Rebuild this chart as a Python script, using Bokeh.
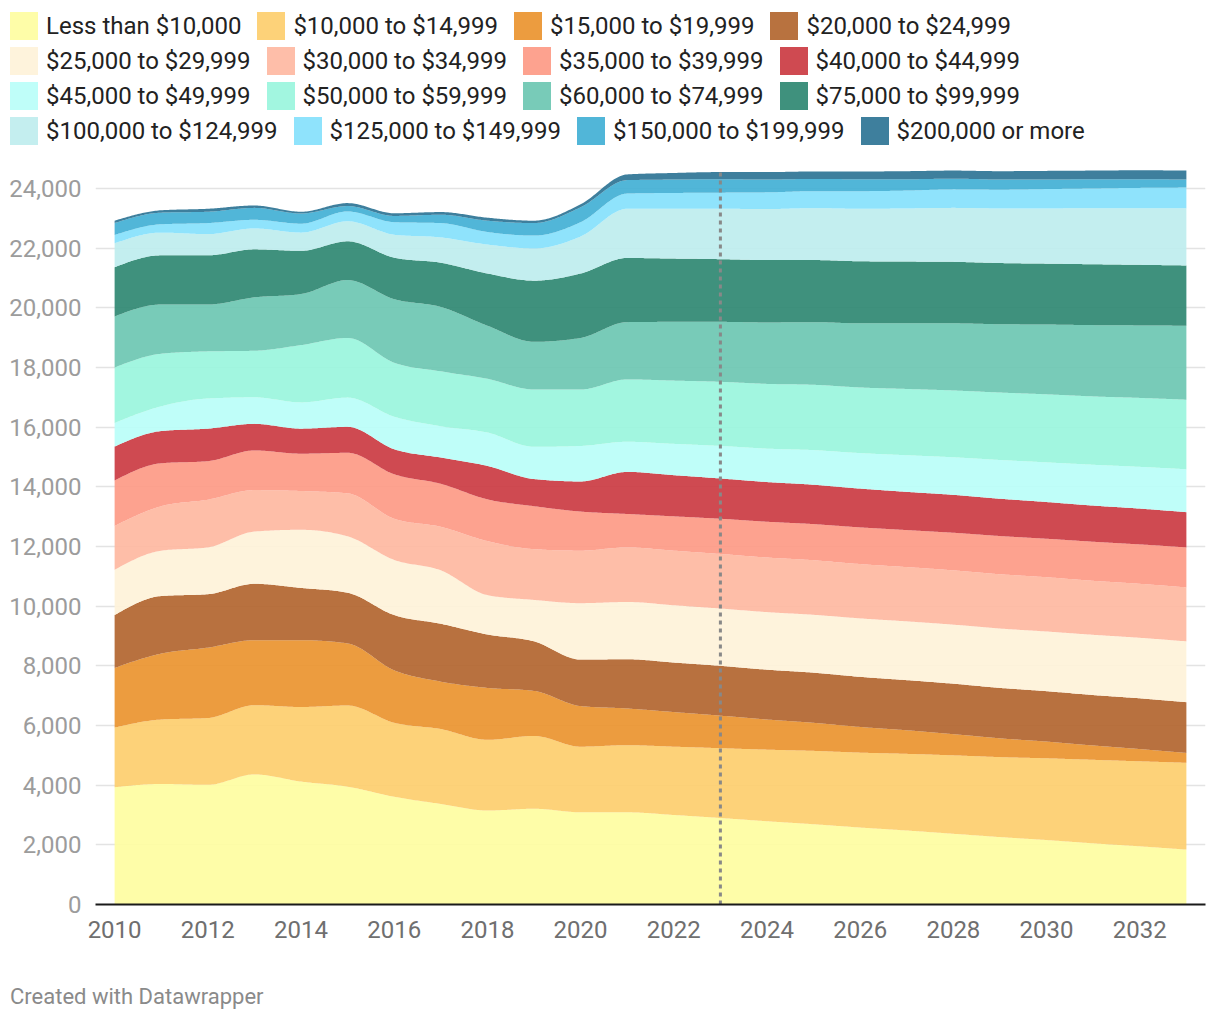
import numpy as np
from bokeh.plotting import figure
from bokeh.layouts import column
from bokeh.models import NumeralTickFormatter, FixedTicker, Range1d, Div
from bokeh.embed import file_html
from bokeh.resources import INLINE

# ---------------- data ----------------
years = list(range(2010, 2034))
forecast_start = 2023

labels = [
    "Less than $10,000", "$10,000 to $14,999", "$15,000 to $19,999", "$20,000 to $24,999",
    "$25,000 to $29,999", "$30,000 to $34,999", "$35,000 to $39,999", "$40,000 to $44,999",
    "$45,000 to $49,999", "$50,000 to $59,999", "$60,000 to $74,999", "$75,000 to $99,999",
    "$100,000 to $124,999", "$125,000 to $149,999", "$150,000 to $199,999", "$200,000 or more",
]

less_10k = [3930, 4040, 4010, 4360, 4120, 3950, 3610, 3370, 3150, 3210, 3090, 3090,
            3000, 2900, 2790, 2690, 2580, 2480, 2370, 2260, 2160, 2050, 1950, 1840]
inc_10_15k = [2000, 2160, 2240, 2320, 2500, 2720, 2480, 2510, 2370, 2440, 2200, 2250,
              2290, 2340, 2400, 2460, 2510, 2570, 2630, 2680, 2740, 2800, 2850, 2910]
inc_15_20k = [2000, 2210, 2360, 2180, 2240, 2080, 1760, 1590, 1740, 1510, 1360, 1230,
              1160, 1090, 1010, 940, 860, 790, 710, 630, 560, 480, 410, 330]
inc_20_25k = [1770, 1930, 1790, 1890, 1750, 1700, 1850, 1940, 1790, 1660, 1560, 1650,
              1660, 1670, 1670, 1680, 1680, 1680, 1690, 1690, 1690, 1690, 1700, 1700]
inc_25_30k = [1520, 1520, 1570, 1750, 1950, 1890, 1850, 1790, 1320, 1390, 1890, 1920,
              1920, 1920, 1930, 1940, 1960, 1970, 1980, 1990, 2000, 2020, 2030, 2040]
inc_30_35k = [1470, 1490, 1600, 1390, 1300, 1440, 1380, 1460, 1810, 1700, 1760, 1830,
              1830, 1830, 1830, 1830, 1820, 1820, 1820, 1820, 1820, 1810, 1810, 1810]
inc_35_40k = [1520, 1440, 1290, 1330, 1250, 1360, 1490, 1440, 1400, 1440, 1310, 1120,
              1150, 1180, 1200, 1210, 1230, 1240, 1260, 1280, 1290, 1310, 1320, 1340]
inc_40_45k = [1140, 1080, 1090, 890, 840, 870, 840, 880, 1120, 910, 1010, 1410,
              1380, 1350, 1330, 1320, 1300, 1280, 1270, 1250, 1230, 1210, 1200, 1180]
inc_45_50k = [790, 830, 1010, 890, 880, 980, 1090, 1050, 1120, 1080, 1190, 1010,
              1050, 1090, 1120, 1160, 1190, 1230, 1260, 1300, 1330, 1370, 1400, 1440]
inc_50_60k = [1860, 1760, 1580, 1560, 1920, 2000, 1810, 1840, 1800, 1920, 1890, 2090,
              2120, 2150, 2170, 2190, 2200, 2220, 2240, 2260, 2280, 2290, 2310, 2330]
inc_60_75k = [1710, 1650, 1570, 1790, 1710, 1940, 2130, 2160, 1780, 1600, 1730, 1920,
              1970, 2010, 2060, 2100, 2150, 2200, 2250, 2290, 2340, 2390, 2430, 2480]
inc_75_100k = [1650, 1650, 1650, 1610, 1450, 1300, 1390, 1480, 1750, 2050, 2160, 2150,
               2120, 2100, 2090, 2080, 2080, 2070, 2060, 2050, 2040, 2040, 2030, 2020]
inc_100_125k = [800, 760, 710, 700, 610, 670, 770, 850, 970, 1080, 1240, 1650,
                1670, 1690, 1710, 1740, 1760, 1780, 1810, 1830, 1850, 1880, 1900, 1920]
inc_125_150k = [280, 280, 370, 290, 300, 330, 420, 480, 420, 430, 480, 510,
                530, 540, 560, 570, 590, 600, 620, 630, 650, 660, 680, 690]
inc_150_200k = [400, 390, 380, 400, 340, 180, 210, 280, 380, 420, 500, 450,
                450, 450, 430, 410, 400, 380, 360, 340, 320, 310, 290, 270]
inc_200k_plus = [80, 80, 100, 80, 60, 100, 90, 90, 100, 80, 100, 190,
                 220, 240, 250, 250, 260, 270, 270, 280, 290, 290, 300, 300]

series = [less_10k, inc_10_15k, inc_15_20k, inc_20_25k, inc_25_30k, inc_30_35k,
          inc_35_40k, inc_40_45k, inc_45_50k, inc_50_60k, inc_60_75k, inc_75_100k,
          inc_100_125k, inc_125_150k, inc_150_200k, inc_200k_plus]

# colours as they appear on white
colors = ["#fefda8", "#fdd279", "#ec9c3f", "#b8723f", "#fef3dc", "#febea9", "#fda28f",
          "#cf4a51", "#bffef9", "#a2f6e0", "#78cbb8", "#3f917d", "#c4eeef", "#8fe3fc",
          "#51b6d8", "#3e7f9d"]

y_ticks = list(range(0, 24001, 2000))
x_ticks = list(range(2010, 2033, 2))
footer_text = "Created with Datawrapper"

AREA_ALPHA = 0.9


def base_color(hex_on_white, a=AREA_ALPHA):
    """Colour that, drawn at opacity a on white, looks like hex_on_white."""
    h = hex_on_white.lstrip("#")
    rgb = [int(h[i:i + 2], 16) for i in (0, 2, 4)]
    out = [max(0, min(255, round((c - 255 * (1 - a)) / a))) for c in rgb]
    return "#%02x%02x%02x" % tuple(out)


# ---------- monotone-x cubic (as d3.curveMonotoneX) ----------
def _sgn(v):
    return -1.0 if v < 0 else 1.0


def monotone(xs, ys, n=32):
    xs = np.asarray(xs, float)
    ys = np.asarray(ys, float)
    m = len(xs)
    h = np.diff(xs)
    s = np.diff(ys) / h
    t = np.zeros(m)
    for i in range(1, m - 1):
        s0, s1, h0, h1 = s[i - 1], s[i], h[i - 1], h[i]
        pp = (s0 * h1 + s1 * h0) / (h0 + h1)
        t[i] = (_sgn(s0) + _sgn(s1)) * min(abs(s0), abs(s1), 0.5 * abs(pp))
    t[0] = (3 * s[0] - t[1]) / 2
    t[-1] = (3 * s[-1] - t[-2]) / 2
    ox, oy = [], []
    for i in range(m - 1):
        u = np.linspace(0, 1, n, endpoint=(i == m - 2))
        dx = h[i]
        h00 = 2 * u**3 - 3 * u**2 + 1
        h10 = u**3 - 2 * u**2 + u
        h01 = -2 * u**3 + 3 * u**2
        h11 = u**3 - u**2
        ox.append(xs[i] + u * dx)
        oy.append(h00 * ys[i] + h10 * dx * t[i] + h01 * ys[i + 1] + h11 * dx * t[i + 1])
    return np.concatenate(ox), np.concatenate(oy)


FONT = "Roboto"
W = 1212

# ---------------- legend (HTML, flowing rows like the original) ----------------
rows_html = []
for r_i in range(4):
    items = []
    for lab, col in list(zip(labels, colors))[r_i * 4:(r_i + 1) * 4]:
        items.append(
            '<span style="display:inline-flex;align-items:center;margin-right:16px;">'
            f'<span style="display:inline-block;width:28px;height:28px;background:{col};'
            'margin-right:8px;"></span>'
            f'<span>{lab}</span></span>')
    rows_html.append('<div style="height:35px;display:flex;align-items:center;'
                     'white-space:nowrap;">' + "".join(items) + "</div>")
legend_div = Div(text='<div style="padding-top:8px;">' + "".join(rows_html) + "</div>",
                 width=W - 10, height=148, margin=(0, 0, 0, 10),
                 styles={"font-family": FONT, "font-size": "24px", "color": "#222222",
                         "line-height": "28px"})

# ---------------- main chart ----------------
p = figure(width=W, height=835, output_backend="svg", toolbar_location=None,
           title=None, x_range=Range1d(2009.59, 2033.41), y_range=Range1d(0, 25340),
           min_border_left=95, min_border_right=7, min_border_top=0,
           min_border_bottom=79)
p.outline_line_color = None
p.background_fill_color = "white"
p.border_fill_color = "white"

cum = np.cumsum(np.array(series, dtype=float), axis=0)
prev = None
for lab, col, top in zip(labels, colors, cum):
    dx, upper = monotone(years, top)
    if prev is None:
        lower = np.zeros_like(upper)
    else:
        _, lower = monotone(years, prev)
    p.varea(x=dx, y1=lower, y2=upper, fill_color=base_color(col), fill_alpha=AREA_ALPHA)
    prev = top

total_at_forecast = cum[-1][years.index(forecast_start)]
p.segment(x0=[forecast_start], y0=[0], x1=[forecast_start], y1=[total_at_forecast],
          line_color="#888888", line_width=3, line_dash="4 4")

p.xaxis.ticker = FixedTicker(ticks=x_ticks)
p.xaxis.major_tick_line_color = None
p.xaxis.minor_tick_line_color = None
p.xaxis.major_tick_out = 0
p.xaxis.major_label_standoff = 16
p.xaxis.axis_line_color = "#1a1a1a"
p.xaxis.axis_line_width = 2
p.xaxis.major_label_text_font = FONT
p.xaxis.major_label_text_font_size = "24px"
p.xaxis.major_label_text_color = "#6f6f6f"

p.yaxis.ticker = FixedTicker(ticks=y_ticks)
p.yaxis.formatter = NumeralTickFormatter(format="0,0")
p.yaxis.axis_line_color = None
p.yaxis.major_tick_line_color = None
p.yaxis.minor_tick_line_color = None
p.yaxis.major_tick_out = 0
p.yaxis.major_label_standoff = 14
p.yaxis.major_label_text_font = FONT
p.yaxis.major_label_text_font_size = "24px"
p.yaxis.major_label_text_color = "#9c9c9c"

p.xgrid.visible = False
p.ygrid.grid_line_color = "#e3e3e3"
p.ygrid.grid_line_width = 1.5

# ---------------- footer ----------------
footer = Div(text=footer_text, width=W - 10, height=28, margin=(0, 0, 0, 10),
             styles={"font-family": FONT, "font-size": "22px", "color": "#8a8a8a",
                     "line-height": "28px", "white-space": "nowrap"})

layout = column(legend_div, p, footer, spacing=0)
open("out.html", "w").write(file_html(layout, INLINE))
